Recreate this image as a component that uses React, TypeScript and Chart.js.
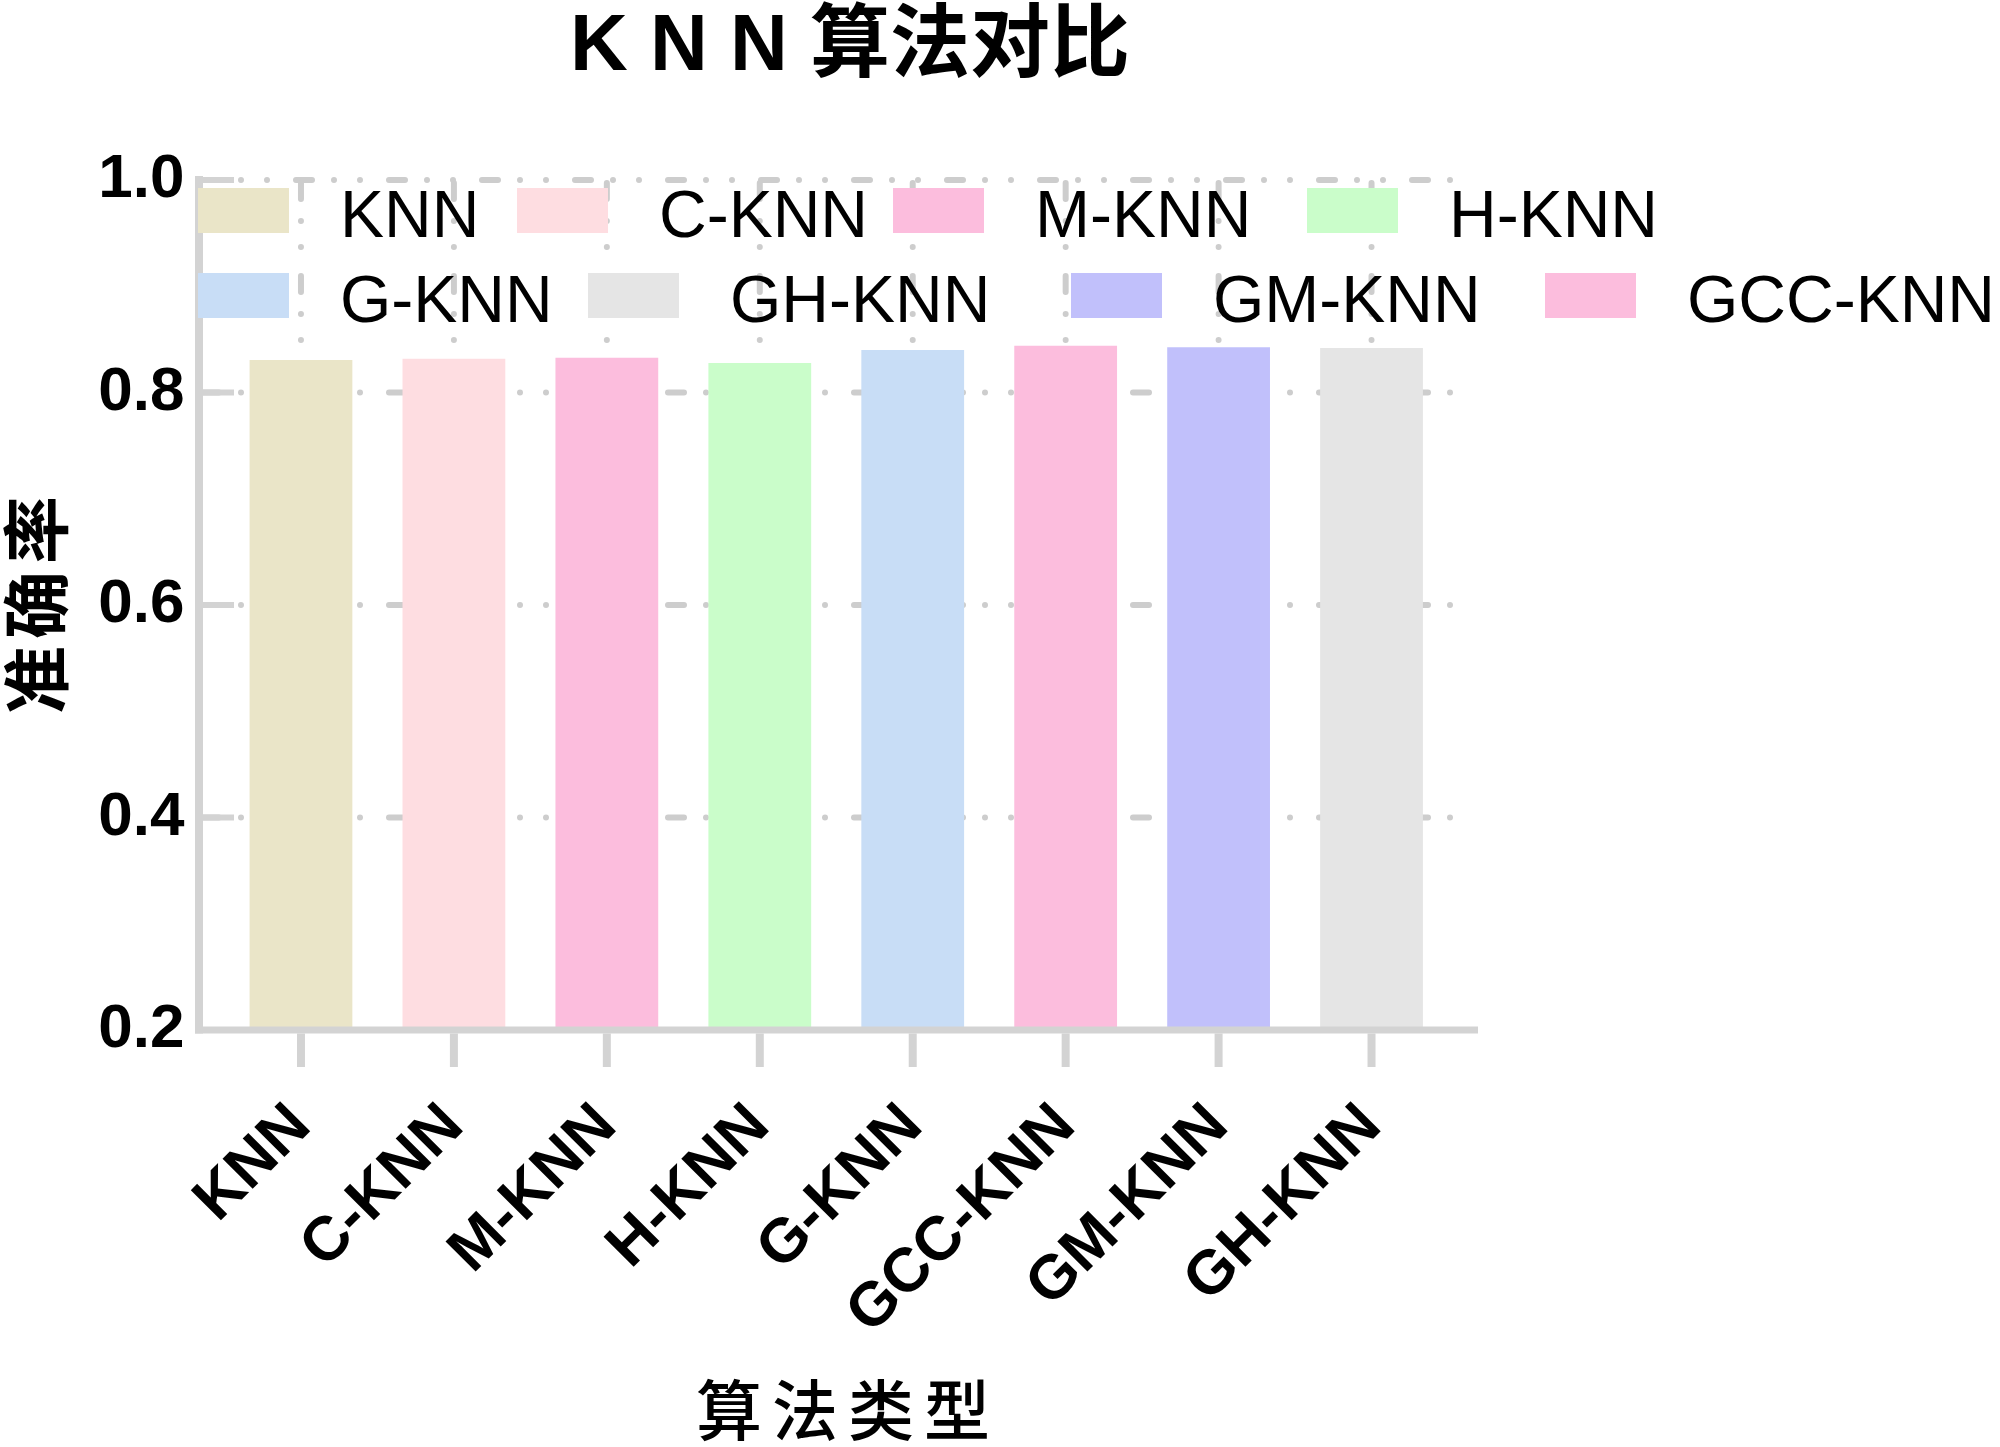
import React, { useEffect, useRef } from 'react';
import { Chart, registerables } from 'chart.js';

Chart.register(...registerables);

// ---------- data ----------
const categories = ['KNN', 'C-KNN', 'M-KNN', 'H-KNN', 'G-KNN', 'GCC-KNN', 'GM-KNN', 'GH-KNN'];
const accuracy = [0.8305, 0.8317, 0.8327, 0.8277, 0.84, 0.844, 0.8427, 0.8418];
const barColors = ['#EAE5C8', '#FEDDE1', '#FCBDDD', '#CAFDCA', '#C8DDF6', '#FCBDDD', '#C1C0FB', '#E5E5E5'];
const legendOrder = ['KNN', 'C-KNN', 'M-KNN', 'H-KNN', 'G-KNN', 'GH-KNN', 'GM-KNN', 'GCC-KNN'];
const yTicks = [0.2, 0.4, 0.6, 0.8, 1.0];
const titleText = 'K N N 算法对比';
const xTitle = '算法类型';
const yTitle = '准确率';

// ---------- layout / style ----------
const W = 2000;
const H = 1447;
const AXIS_COLOR = '#D3D3D3';
const GRID_COLOR = '#CDCDCD';
const GRID_DASH = [16, 22, 0, 26, 0, 29];
const legendX = [198, 517, 893, 1307, 198, 588, 1071, 1545];
const legendRowTop = [188, 273];
const LATIN = '"Liberation Sans", Arial, "Noto Sans CJK SC", sans-serif';
const CJK = '"Noto Sans CJK SC", "Liberation Sans", sans-serif';

function drawSpaced(ctx: any, text: string, advance: number) {
  const chars = Array.from(text);
  const n = chars.length;
  chars.forEach((ch, i) => {
    ctx.fillText(ch, (i - (n - 1) / 2) * advance, 0);
  });
}

const decorPlugin = {
  id: 'decor',
  beforeDatasetsDraw(chart: any) {
    const { ctx, chartArea } = chart;
    const xs = chart.scales.x;
    const ys = chart.scales.y;
    const axisX = chartArea.left - 25.5;
    ctx.save();
    ctx.strokeStyle = GRID_COLOR;
    ctx.lineWidth = 6;
    ctx.lineCap = 'round';
    ctx.setLineDash(GRID_DASH);
    const top = ys.getPixelForValue(yTicks[yTicks.length - 1]);
    for (const v of yTicks) {
      if (v === yTicks[0]) continue;
      const py = ys.getPixelForValue(v);
      ctx.beginPath();
      ctx.moveTo(axisX + 4, py);
      ctx.lineTo(chartArea.right + 11, py);
      ctx.stroke();
    }
    for (let i = 0; i < categories.length; i++) {
      const px = xs.getPixelForTick(i);
      ctx.beginPath();
      ctx.moveTo(px, top + 3);
      ctx.lineTo(px, chartArea.bottom);
      ctx.stroke();
    }
    ctx.restore();
  },
  afterDatasetsDraw(chart: any) {
    const { ctx, chartArea } = chart;
    const xs = chart.scales.x;
    const ys = chart.scales.y;
    const axisX = chartArea.left - 25.5;
    ctx.save();
    ctx.setLineDash([]);
    ctx.lineCap = 'butt';
    ctx.strokeStyle = AXIS_COLOR;
    ctx.lineWidth = 6;
    for (const v of yTicks) {
      if (v === yTicks[0]) continue;
      const py = ys.getPixelForValue(v);
      ctx.beginPath();
      ctx.moveTo(axisX, py);
      ctx.lineTo(axisX + 35, py);
      ctx.stroke();
    }
    ctx.lineWidth = 8;
    ctx.beginPath();
    ctx.moveTo(axisX, ys.getPixelForValue(yTicks[yTicks.length - 1]) - 4);
    ctx.lineTo(axisX, chartArea.bottom + 3.5);
    ctx.stroke();
    ctx.lineWidth = 7;
    ctx.beginPath();
    ctx.moveTo(axisX - 4, chartArea.bottom);
    ctx.lineTo(chartArea.right + 30, chartArea.bottom);
    ctx.stroke();
    ctx.lineWidth = 8;
    for (let i = 0; i < categories.length; i++) {
      const px = xs.getPixelForTick(i);
      ctx.beginPath();
      ctx.moveTo(px, chartArea.bottom + 3.5);
      ctx.lineTo(px, chartArea.bottom + 37);
      ctx.stroke();
    }
    ctx.restore();
  },
  afterDraw(chart: any) {
    const { ctx, chartArea } = chart;
    ctx.save();
    ctx.fillStyle = '#000';
    ctx.textAlign = 'center';
    ctx.textBaseline = 'alphabetic';
    ctx.font = `bold 80px ${LATIN}`;
    ctx.fillText(titleText, 850, 70);
    // legend
    ctx.textAlign = 'left';
    ctx.font = `66px ${LATIN}`;
    legendOrder.forEach((lab, i) => {
      const row = i < 4 ? 0 : 1;
      const bx = legendX[i];
      const by = legendRowTop[row];
      ctx.fillStyle = barColors[categories.indexOf(lab)];
      ctx.fillRect(bx, by, 91, 45);
      ctx.fillStyle = '#000';
      ctx.fillText(lab, bx + 142, by + 49);
    });
    // x title
    ctx.textAlign = 'center';
    ctx.textBaseline = 'middle';
    ctx.font = `500 66px ${CJK}`;
    ctx.save();
    ctx.translate(843, 1410);
    drawSpaced(ctx, xTitle, 76);
    ctx.restore();
    // y title
    ctx.font = `bold 68px ${CJK}`;
    ctx.save();
    ctx.translate(36, (chartArea.top + chartArea.bottom) / 2);
    ctx.rotate(-Math.PI / 2);
    drawSpaced(ctx, yTitle, 75);
    ctx.restore();
    ctx.restore();
  },
};

export default function App() {
  const ref = useRef<HTMLCanvasElement | null>(null);
  useEffect(() => {
    document.body.style.margin = '0';
    const canvas = ref.current;
    if (!canvas) return;
    Chart.defaults.font.family = LATIN;
    const chart = new Chart(canvas, {
      type: 'bar',
      data: {
        labels: categories,
        datasets: [
          {
            label: '准确率',
            data: accuracy,
            backgroundColor: barColors,
            borderWidth: 0,
            categoryPercentage: 1,
            barPercentage: 0.672,
          },
        ],
      },
      options: {
        responsive: false,
        animation: false,
        devicePixelRatio: 1,
        layout: { padding: { top: 180, right: W - 1448, left: 0, bottom: 0 } },
        plugins: {
          legend: { display: false },
          title: { display: false },
          tooltip: { enabled: false },
        },
        scales: {
          x: {
            type: 'category',
            offset: true,
            grid: { display: false, drawTicks: false },
            border: { display: false },
            ticks: {
              autoSkip: false,
              maxRotation: 45,
              minRotation: 45,
              padding: 60,
              color: '#000',
              font: { size: 62, weight: 'bold', family: LATIN },
            },
            afterFit(scale: any) {
              scale.height = 417;
            },
          },
          y: {
            min: 0.2,
            max: 1.0,
            grid: { display: false, drawTicks: false },
            border: { display: false },
            ticks: {
              stepSize: 0.2,
              padding: 40,
              color: '#000',
              font: { size: 62, weight: 'bold', family: LATIN },
              callback: (v: any) => Number(v).toFixed(1),
            },
            afterFit(scale: any) {
              scale.width = 224.5;
            },
          },
        },
      },
      plugins: [decorPlugin],
    } as any);
    return () => chart.destroy();
  }, []);
  return (
    <div style={{ width: W, height: H, background: '#fff' }}>
      <canvas ref={ref} width={W} height={H} style={{ display: 'block' }} />
    </div>
  );
}
